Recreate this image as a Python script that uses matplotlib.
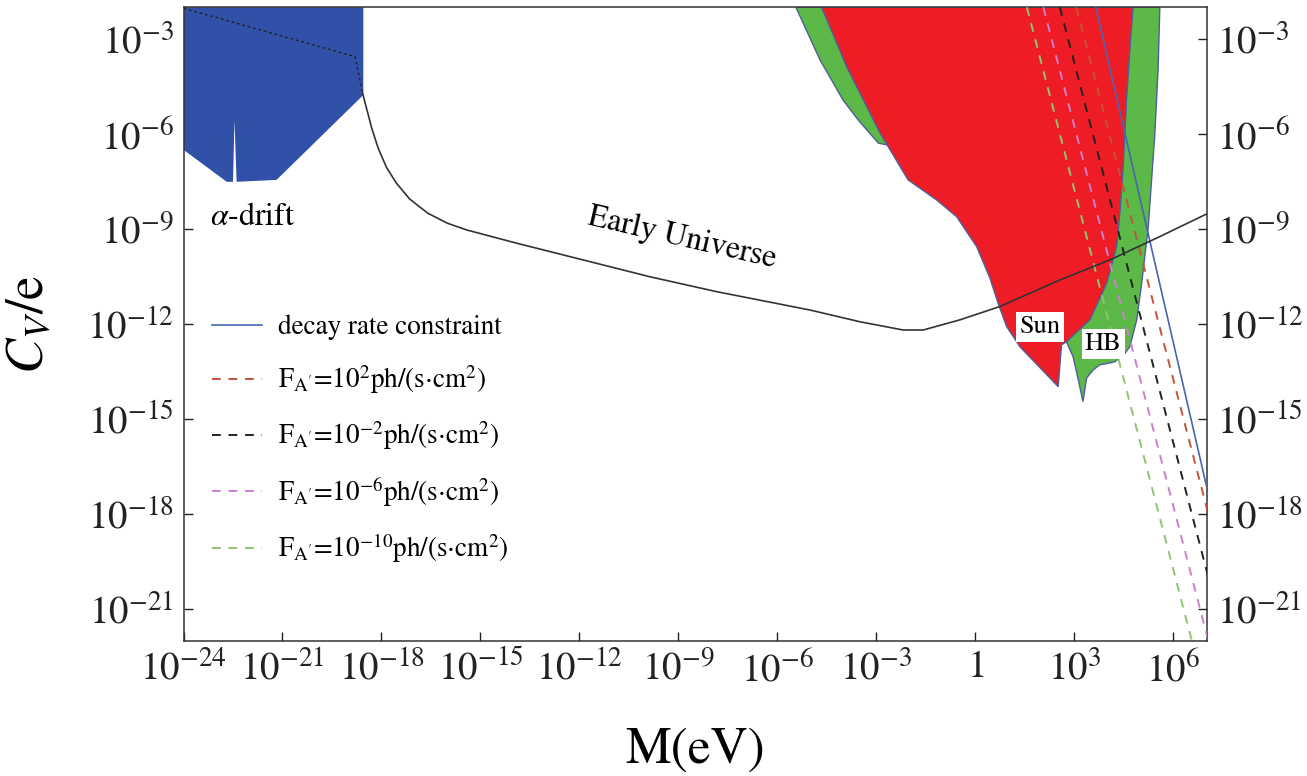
import numpy as np
import matplotlib
matplotlib.use("Agg")
import matplotlib.pyplot as plt
from matplotlib.lines import Line2D
from matplotlib.ticker import NullLocator

plt.rcParams['font.family'] = 'STIXGeneral'
plt.rcParams['mathtext.fontset'] = 'stix'

# all values are log10(M/eV) and log10(C_V/e)
# alpha-drift region (blue)
alpha_lm = [-24, -18.55, -18.55, -21.18, -22.39, -22.455, -22.50, -22.69, -24]
alpha_lc = [-2, -2, -4.77, -7.45, -7.51, -5.56, -7.51, -7.51, -6.5]

# Sun region (red)
sun_lm = [-4.66, -3.90, -2.89, -2.04, -1.18, -0.57, 0.04, 0.44, 0.69, 0.95, 1.15, 1.35,
          2.51, 2.61, 2.76, 3.47, 3.98, 4.28, 4.38, 4.48, 4.58, 4.68, 4.78]
sun_lc = [-2, -3.88, -5.97, -7.45, -8.08, -8.61, -9.56, -10.55, -11.35, -12.09, -12.40, -12.72,
          -13.98, -12.66, -12.56, -11.87, -10.71, -9.56, -8.50, -7.03, -4.93, -3.35, -2]

# HB region (green), partly under the red one
hb_lm = [-5.44, -4.71, -4.01, -3.55, -3.20, -2.94, -2.65, 0.74, 2.76, 2.96, 3.12, 3.26, 3.37,
         3.57, 3.77, 4.08, 4.23, 4.53, 4.68, 4.89, 5.04, 5.24, 5.44, 5.54, 5.59]
hb_lc = [-2, -3.66, -4.93, -5.56, -5.98, -6.29, -6.35, -9.98, -12.56, -13.03, -13.77, -14.45, -13.71,
         -13.45, -13.29, -13.23, -13.19, -12.93, -12.72, -11.87, -10.71, -8.93, -5.98, -3.88, -2]

# Early Universe curve
eu_lm = [-18.57, -18.45, -18.30, -18.10, -17.85, -17.55, -17.15, -16.60, -16.00, -15.42, -13.90,
         -11.88, -9.86, -7.84, -5.01, -3.50, -2.19, -1.58, -0.47, 0.74, 2.56, 4.07, 5.59, 7.0]
eu_lc = [-4.72, -5.20, -5.80, -6.45, -7.05, -7.55, -8.05, -8.50, -8.82, -9.03, -9.45,
         -9.98, -10.51, -10.98, -11.56, -11.93, -12.19, -12.19, -11.87, -11.45, -10.61, -9.98, -9.24, -8.53]
eu_dash_lm = [-24, -18.8, -18.57]
eu_dash_lc = [-2.03, -3.56, -4.72]

# decay rate constraint (end points)
decay_lm = [3.65, 7.0]
decay_lc = [-2, -17.1]

# flux lines: M at C=1e-2 and at C=1e-22
flux_names = ['2', '-2', '-6', '-10']
flux_lm_top = [3.06, 2.56, 2.06, 1.56]
flux_lm_bot = [8.06, 7.56, 7.06, 6.56]
flux_lc_ends = [-2, -22]
flux_colors = ['#c4533c', '#222222', '#cc80cc', '#8dc673']

x_tick_pos = [-24, -21, -18, -15, -12, -9, -6, -3, 0, 3, 6]
x_tick_labels = [r'$10^{-24}$', r'$10^{-21}$', r'$10^{-18}$', r'$10^{-15}$', r'$10^{-12}$',
                 r'$10^{-9}$', r'$10^{-6}$', r'$10^{-3}$', r'$1$', r'$10^{3}$', r'$10^{6}$']
y_tick_pos = [-3, -6, -9, -12, -15, -18, -21]
y_tick_labels = [r'$10^{-3}$', r'$10^{-6}$', r'$10^{-9}$', r'$10^{-12}$', r'$10^{-15}$',
                 r'$10^{-18}$', r'$10^{-21}$']


def pw(v):
    return 10.0 ** np.asarray(v, dtype=float)


fig = plt.figure(figsize=(13.07, 7.76), dpi=100)
ax = fig.add_axes([0.1404, 0.1744, 0.7831, 0.8162])
ax.set_xscale('log')
ax.set_yscale('log')

edge = '#4d5f98'
ax.fill(pw(hb_lm), pw(hb_lc), facecolor='#5cb947', edgecolor=edge, lw=1.0, zorder=1)
ax.fill(pw(sun_lm), pw(sun_lc), facecolor='#ee1c25', edgecolor=edge, lw=1.0, zorder=2)
ax.fill(pw(alpha_lm), pw(alpha_lc), facecolor='#3151a8', edgecolor='none', zorder=2)

for top, bot, c in zip(flux_lm_top, flux_lm_bot, flux_colors):
    ax.plot(pw([top, bot]), pw(flux_lc_ends), color=c, lw=1.4, ls=(0, (4.5, 4)), zorder=3)
ax.plot(pw(decay_lm), pw(decay_lc), color='#4866b2', lw=1.2, zorder=3)

ax.plot(pw(eu_lm), pw(eu_lc), color='#333333', lw=1.2, zorder=4)
ax.plot(pw(eu_dash_lm), pw(eu_dash_lc), color='#222222', lw=1.0, ls=(0, (2, 2)), zorder=4)

ax.set_xlim(10 ** -24, 10 ** 7.02)
ax.set_ylim(10 ** -22, 10 ** -2)

ax.set_xticks(pw(x_tick_pos))
ax.set_xticklabels(x_tick_labels)
ax.set_yticks(pw(y_tick_pos))
ax.set_yticklabels(y_tick_labels)
ax.xaxis.set_minor_locator(NullLocator())
ax.yaxis.set_minor_locator(NullLocator())
ax.tick_params(which='major', direction='in', length=6.5, width=1.0, labelsize=28,
               right=True, labelright=True, top=False, pad=7, colors='#222222')
for s in ax.spines.values():
    s.set_color('#333333')
    s.set_linewidth(1.1)

ax.set_xlabel('M(eV)', fontsize=37)
ax.xaxis.set_label_coords(0.5, -0.136)
ax.set_ylabel(r'$C_V/\mathrm{e}$', fontsize=38)
ax.yaxis.set_label_coords(-0.125, 0.5)

# annotations
ax.text(10 ** -23.2, 10 ** -8.62, r'$\alpha$-drift', fontsize=23, ha='left', va='center', zorder=5)
ax.text(10 ** -8.90, 10 ** -9.28, 'Early Universe', fontsize=23, rotation=-13,
        rotation_mode='anchor', ha='center', va='center', zorder=5)
box = dict(boxstyle='square,pad=0.12', facecolor='white', edgecolor='none')
ax.text(10 ** 1.96, 10 ** -12.09, 'Sun', fontsize=19, ha='center', va='center', bbox=box, zorder=6)
ax.text(10 ** 3.87, 10 ** -12.64, 'HB', fontsize=19, ha='center', va='center', bbox=box, zorder=6)

handles = [Line2D([], [], color='#4866b2', lw=1.2)]
labels = ['decay rate constraint']
for n, c in zip(flux_names, flux_colors):
    handles.append(Line2D([], [], color=c, lw=1.4, ls=(0, (4.5, 4))))
    labels.append(r'F$_{\mathrm{A}^{\prime}}$=10$^{%s}$ph/(s$\cdot$cm$^{2}$)' % n)
ax.legend(handles, labels, loc='upper left', bbox_to_anchor=(0.0276, 0.515), frameon=False,
          fontsize=19.5, handlelength=1.85, handletextpad=0.6, labelspacing=0.85,
          borderpad=0, borderaxespad=0)

fig.savefig('out.png', dpi=100)
